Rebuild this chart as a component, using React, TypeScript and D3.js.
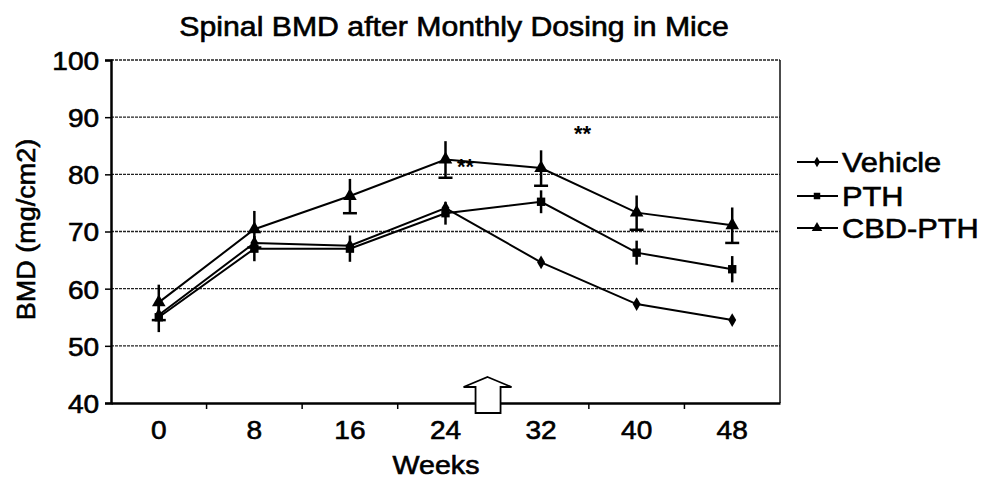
import React, { useEffect, useRef } from 'react';
import * as d3 from 'd3';

const weeks = ['0', '8', '16', '24', '32', '40', '48'];
const vehicle = [55.4, 68.0, 67.5, 74.1, 64.6, 57.3, 54.5];
const pth = [55.0, 67.0, 67.0, 73.2, 75.2, 66.3, 63.4];
const cbdPth = [57.6, 70.4, 76.2, 82.6, 81.1, 73.3, 71.1];
const vehicleErr = [0, 0, 0, 0, 0, 0, 0];
const pthErr = [2.6, 2.2, 2.3, 2.0, 2.0, 2.1, 2.3];
const cbdErr = [3.1, 3.2, 3.0, 3.2, 3.1, 3.0, 3.1];
const yTicks = [40, 50, 60, 70, 80, 90, 100];

const series = [
  { name: 'Vehicle', values: vehicle, err: vehicleErr, symbol: d3.symbolDiamond, size: 55, cap: false },
  { name: 'PTH', values: pth, err: pthErr, symbol: d3.symbolSquare, size: 70, cap: false },
  { name: 'CBD-PTH', values: cbdPth, err: cbdErr, symbol: d3.symbolTriangle, size: 80, cap: true },
];

export default function App() {
  const ref = useRef<SVGSVGElement>(null);

  useEffect(() => {
    const width = 993;
    const height = 481;
    const left = 111, right = 780, top = 60, bottom = 403;
    const font = 'Liberation Sans, Arial, sans-serif';

    const svg = d3.select(ref.current);
    svg.selectAll('*').remove();
    svg.attr('width', width).attr('height', height);

    // scanned text looks heavy and a bit wide
    const heavy = (sel: any) => sel
      .style('font-family', font)
      .attr('fill', '#000')
      .attr('stroke', '#000').attr('stroke-width', 0.6);

    const x = d3.scaleBand().domain(weeks).range([left, right]);
    const y = d3.scaleLinear().domain([40, 100]).range([bottom, top]);
    const cx = (w: string) => (x(w) as number) + x.bandwidth() / 2;

    // title
    svg.append('text')
      .attr('transform', 'translate(454,36) scale(1.12,1)')
      .attr('text-anchor', 'middle')
      .style('font-size', '27px')
      .call(heavy)
      .text('Spinal BMD after Monthly Dosing in Mice');

    // gridlines
    svg.append('g').selectAll('line')
      .data(yTicks.filter(t => t > 40))
      .enter().append('line')
      .attr('x1', left).attr('x2', right)
      .attr('y1', d => y(d)).attr('y2', d => y(d))
      .attr('stroke', '#222').attr('stroke-width', 1.3)
      .attr('stroke-dasharray', '3,1');

    // right border
    svg.append('line')
      .attr('x1', right).attr('x2', right).attr('y1', top).attr('y2', bottom)
      .attr('stroke', '#111').attr('stroke-width', 1.5);

    // y axis
    const yAxis = svg.append('g')
      .attr('transform', `translate(${left},0)`)
      .call(d3.axisLeft(y).tickValues(yTicks).tickSize(6).tickPadding(5));
    yAxis.select('.domain').attr('stroke', '#000').attr('stroke-width', 2.5);
    yAxis.selectAll('.tick line').attr('stroke-width', 1.5);
    yAxis.selectAll('text')
      .style('font-size', '26px').attr('dy', '0.36em')
      .attr('transform', 'scale(1.08,1)')
      .call(heavy);

    // x axis
    const xAxis = svg.append('g')
      .attr('transform', `translate(0,${bottom})`)
      .call(d3.axisBottom(x).tickSize(0).tickPadding(18));
    xAxis.select('.domain').attr('stroke', '#000').attr('stroke-width', 2.5);
    xAxis.selectAll('text')
      .style('font-size', '26px')
      .attr('transform', 'scale(1.08,1)')
      .call(heavy);
    // scale the x labels around their own centre, not the tick origin
    xAxis.selectAll('.tick').each(function () {
      d3.select(this).select('text').attr('transform', 'scale(1.08,1)');
    });
    svg.append('g').selectAll('line')
      .data(weeks.slice(1))
      .enter().append('line')
      .attr('x1', d => x(d) as number).attr('x2', d => x(d) as number)
      .attr('y1', bottom).attr('y2', bottom + 6)
      .attr('stroke', '#000').attr('stroke-width', 1.5);

    // axis titles
    svg.append('text')
      .attr('transform', 'translate(436,474) scale(1.1,1)')
      .attr('text-anchor', 'middle')
      .style('font-size', '26px')
      .call(heavy)
      .text('Weeks');
    svg.append('text')
      .attr('transform', `translate(35,${(top + bottom) / 2 - 2}) rotate(-90) scale(1.08,1)`)
      .attr('text-anchor', 'middle')
      .style('font-size', '25px')
      .call(heavy)
      .text('BMD (mg/cm2)');

    // dosing arrow, between week 24 and 32
    const ax = cx('24') + x.bandwidth() * 0.44;
    const at = 377, ah = 387, ab = 413;
    svg.append('path')
      .attr('d', `M${ax},${at} L${ax + 24},${ah} L${ax + 13},${ah} L${ax + 13},${ab} L${ax - 12},${ab} L${ax - 12},${ah} L${ax - 24},${ah} Z`)
      .attr('fill', '#fff').attr('stroke', '#000').attr('stroke-width', 1.8);

    const line = d3.line<number>()
      .x((d, i) => cx(weeks[i]))
      .y(d => y(d));

    series.forEach(s => {
      const g = svg.append('g');
      // error bars
      s.values.forEach((v, i) => {
        if (!s.err[i]) return;
        const px = cx(weeks[i]);
        g.append('line')
          .attr('x1', px).attr('x2', px)
          .attr('y1', y(v + s.err[i])).attr('y2', y(v - s.err[i]))
          .attr('stroke', '#000').attr('stroke-width', 2.5);
        if (s.cap) {
          g.append('line')
            .attr('x1', px - 7).attr('x2', px + 7)
            .attr('y1', y(v - s.err[i])).attr('y2', y(v - s.err[i]))
            .attr('stroke', '#000').attr('stroke-width', 2.5);
        }
      });
      g.append('path')
        .datum(s.values)
        .attr('d', line)
        .attr('fill', 'none').attr('stroke', '#000').attr('stroke-width', 2);
      g.selectAll('path.mk')
        .data(s.values)
        .enter().append('path')
        .attr('class', 'mk')
        .attr('transform', (d, i) => `translate(${cx(weeks[i])},${y(d)})`)
        .attr('d', d3.symbol(s.symbol, s.size))
        .attr('fill', '#000');
    });

    // significance marks
    svg.append('text')
      .attr('x', 457).attr('y', 174)
      .style('font-family', font).style('font-size', '22px').style('font-weight', 'bold')
      .text('**');
    svg.append('text')
      .attr('x', 574).attr('y', 141)
      .style('font-family', font).style('font-size', '22px').style('font-weight', 'bold')
      .text('**');

    // legend
    const legY = [162, 196, 228];
    series.forEach((s, i) => {
      const g = svg.append('g').attr('transform', `translate(797,${legY[i]})`);
      g.append('line').attr('x1', 0).attr('x2', 41).attr('y1', 0).attr('y2', 0)
        .attr('stroke', '#000').attr('stroke-width', 1.8);
      g.append('path').attr('transform', 'translate(20,0)')
        .attr('d', d3.symbol(s.symbol, s.size * 0.6)).attr('fill', '#000');
      g.append('text').attr('transform', 'translate(45,0) scale(1.14,1)').attr('dy', '0.36em')
        .style('font-size', '27px')
        .call(heavy)
        .text(s.name);
    });
  }, []);

  return (
    <svg ref={ref} style={{ position: 'absolute', left: 0, top: 0, background: '#fff' }}></svg>
  );
}
